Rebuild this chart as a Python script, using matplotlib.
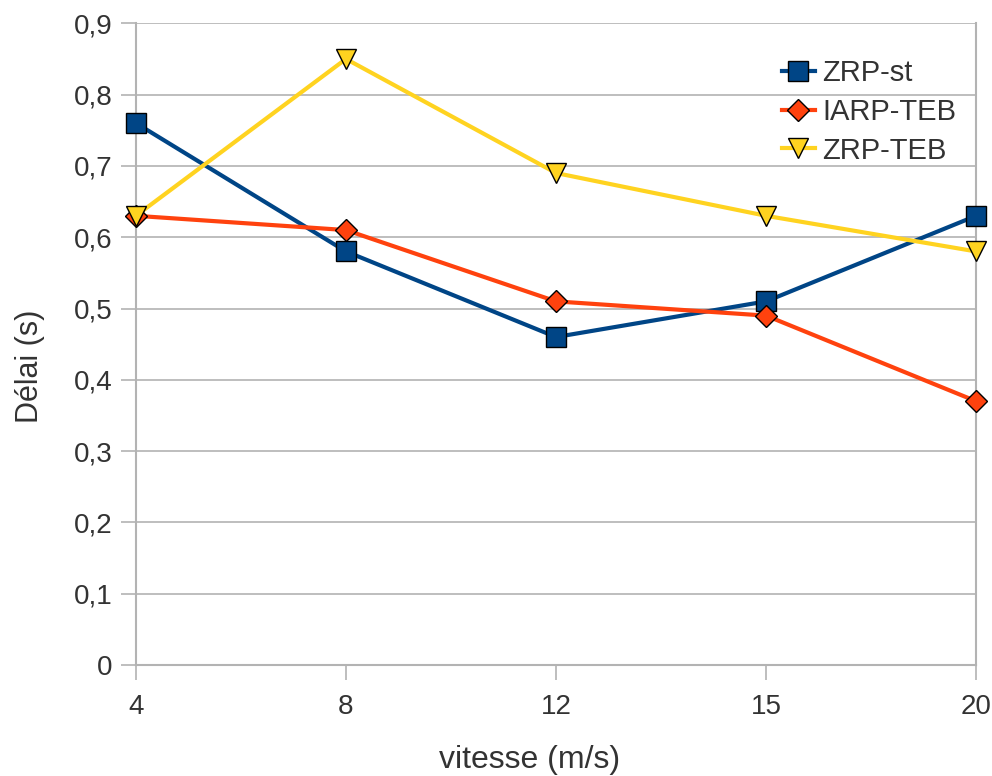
import matplotlib
matplotlib.use("Agg")
import matplotlib.pyplot as plt
from matplotlib.ticker import FuncFormatter

plt.rcParams['font.family'] = ['Liberation Sans', 'DejaVu Sans']

vitesses = ['4', '8', '12', '15', '20']
zrp_st = [0.76, 0.58, 0.46, 0.51, 0.63]
iarp_teb = [0.63, 0.61, 0.51, 0.49, 0.37]
zrp_teb = [0.63, 0.85, 0.69, 0.63, 0.58]

x = list(range(len(vitesses)))

fig = plt.figure(figsize=(9.92, 7.76), dpi=100)
ax = fig.add_axes([0.137, 0.143, 0.847, 0.827])

grey = '#b3b3b3'
txt = '#333333'
ax.plot(x, zrp_st, color='#004586', lw=3, marker='s', ms=14,
        mfc='#004586', mec='black', mew=1, label='ZRP-st', zorder=3,
        clip_on=False)
ax.plot(x, iarp_teb, color='#ff420e', lw=3, marker='D', ms=11,
        mfc='#ff420e', mec='black', mew=1, label='IARP-TEB', zorder=4,
        clip_on=False)
ax.plot(x, zrp_teb, color='#ffd320', lw=3, marker='v', ms=14,
        mfc='#ffd320', mec='black', mew=1, label='ZRP-TEB', zorder=5,
        clip_on=False)

ax.set_xlim(0, len(vitesses) - 1)
ax.set_ylim(0, 0.9)
ax.set_xticks(x)
ax.set_xticklabels(vitesses)
ax.set_yticks([i / 10 for i in range(10)])
ax.yaxis.set_major_formatter(FuncFormatter(
    lambda v, p: '0' if abs(v) < 1e-9 else ('%.1f' % v).replace('.', ',')))

ax.grid(axis='y', color=grey, lw=1.2)
ax.set_axisbelow(True)
ax.spines['top'].set_visible(False)
for s in ['left', 'right', 'bottom']:
    ax.spines[s].set_color(grey)
    ax.spines[s].set_linewidth(1.5)
ax.tick_params(colors=grey, labelcolor=txt, labelsize=20,
               length=11, width=1.2)
ax.tick_params(axis='x', pad=10)
ax.tick_params(axis='y', pad=6)

ax.set_xlabel('vitesse (m/s)', fontsize=23, color=txt)
ax.set_ylabel('Délai (s)', fontsize=22, color=txt)
ax.xaxis.set_label_coords(0.469, -0.148)
ax.yaxis.set_label_coords(-0.126, 0.466)
ax.xaxis.label.set_va('center')
ax.yaxis.label.set_va('center')

ax.legend(loc='upper left', bbox_to_anchor=(0.788, 0.924),
          bbox_transform=fig.transFigure, frameon=False, borderpad=0,
          borderaxespad=0, fontsize=21, handlelength=1.15,
          labelspacing=0.37, handletextpad=0.25, labelcolor=txt)

fig.savefig('out.png', dpi=100)
